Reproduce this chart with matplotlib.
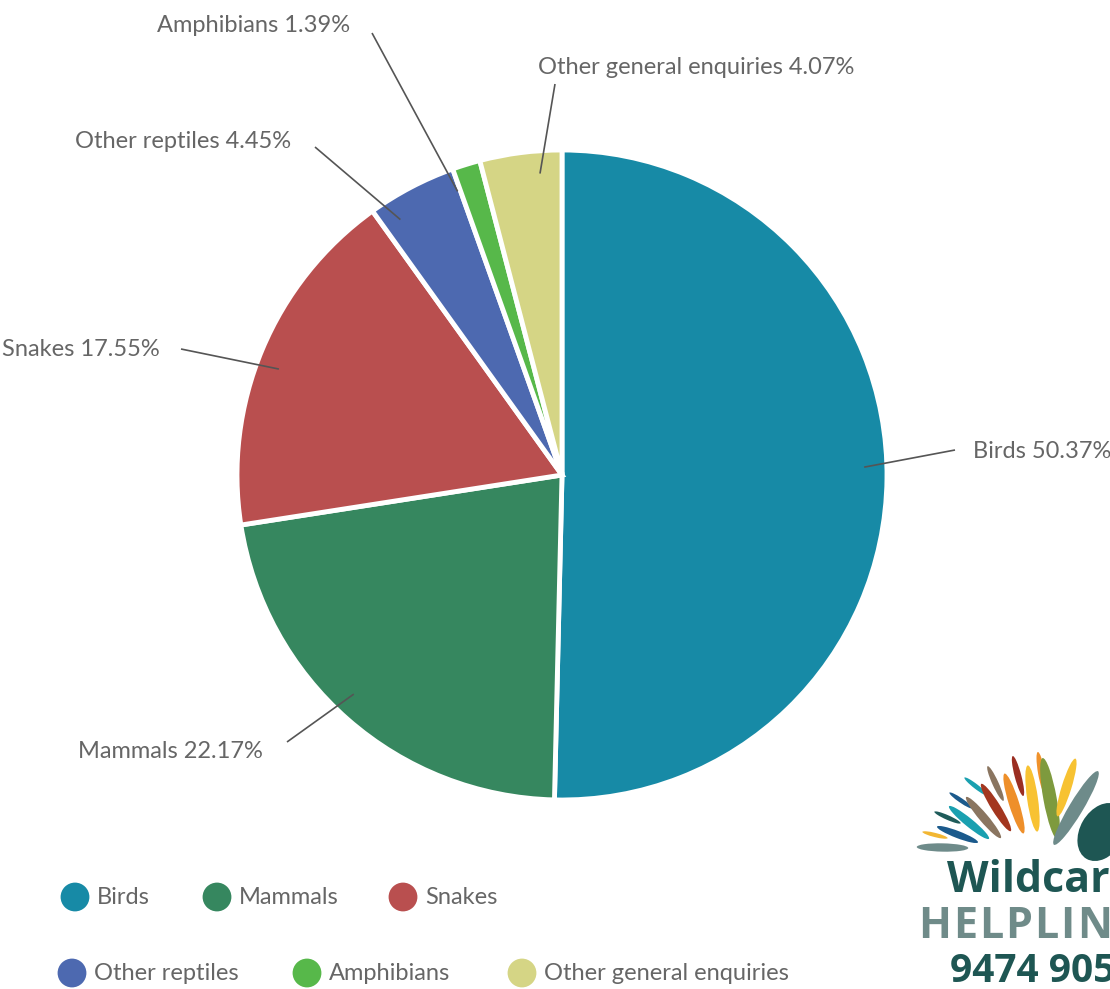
import numpy as np
import matplotlib
matplotlib.use("Agg")
import matplotlib.pyplot as plt
from matplotlib.patches import Ellipse

W, H = 1110, 989

categories = ["Birds", "Mammals", "Snakes", "Other reptiles", "Amphibians",
              "Other general enquiries"]
shares = [50.37, 22.17, 17.55, 4.45, 1.39, 4.07]
colors = ["#178AA6", "#36875F", "#B94F4F", "#4D69B0", "#57B84A", "#D5D585"]

# label layout, pixel coords with y measured from the top
label_pos = [(973, 452), (263, 752), (160, 349), (291, 141), (350, 25), (538, 68)]
leader_end = [(955, 450), (287, 742), (181, 349), (315, 147), (372, 33), (555, 84)]
label_ha = ["left", "right", "right", "right", "right", "left"]

legend_x = [75, 217, 403, 72, 307, 522]
legend_y = [897, 897, 897, 973, 973, 973]

FONT = ["Lato", "DejaVu Sans"]
LOGO_FONT = ["Open Sans", "DejaVu Sans"]
TXT = "#666666"
FS = 17

fig = plt.figure(figsize=(W / 100, H / 100), dpi=100)
ax = fig.add_axes([0, 0, 1, 1])

def Y(py):
    return H - py

# ── pie ───────────────────────────────────────────────────────────────────
cx, cy, R = 562, Y(475), 325
wedges, _ = ax.pie(shares, colors=colors, startangle=90, counterclock=False,
                   center=(cx, cy), radius=R,
                   wedgeprops=dict(edgecolor="white", linewidth=3.5))

for w, cat, val, (tx, ty), (ex, ey), ha in zip(wedges, categories, shares,
                                                 label_pos, leader_end, label_ha):
    mid = np.deg2rad((w.theta1 + w.theta2) / 2)
    # lean the connector a little towards its label
    lab = np.arctan2(Y(ey) - cy, ex - cx)
    ang = mid + 0.5 * np.angle(np.exp(1j * (lab - mid)))
    ix, iy = cx + 0.93 * R * np.cos(ang), cy + 0.93 * R * np.sin(ang)
    ax.plot([ix, ex], [iy, Y(ey)], color="#555555", lw=1.2, solid_capstyle="butt")
    ax.text(tx, Y(ty), f"{cat} {val:.2f}%", ha=ha, va="center", fontsize=FS,
            color=TXT, family=FONT)

# ── legend ────────────────────────────────────────────────────────────────
ax.scatter(legend_x, [Y(v) for v in legend_y], s=430, c=colors, edgecolors="none",
           zorder=3)
for x, y, cat in zip(legend_x, legend_y, categories):
    ax.text(x + 22, Y(y), cat, ha="left", va="center", fontsize=FS, color=TXT,
            family=FONT)

# ── logo (bottom right, clipped by the figure edge) ───────────────────────
strokes = [  # outer end, inner end, colour
    ((918, 847), (967, 848), "#6E8B8A"),
    ((923, 832), (947, 838), "#F2B632"),
    ((938, 827), (977, 842), "#1B5A8C"),
    ((935, 812), (960, 823), "#1F5C5A"),
    ((950, 807), (988, 838), "#1AA0B0"),
    ((950, 793), (972, 808), "#1B5A8C"),
    ((967, 798), (1000, 837), "#8A7560"),
    ((965, 778), (987, 795), "#1AA0B0"),
    ((982, 785), (1010, 830), "#A3361F"),
    ((988, 767), (1003, 800), "#8A7560"),
    ((1005, 775), (1023, 832), "#EE8F2A"),
    ((1013, 757), (1023, 795), "#9B2E22"),
    ((1028, 767), (1037, 830), "#F8C232"),
    ((1038, 753), (1045, 793), "#F0922B"),
    ((1043, 760), (1057, 837), "#7E9A3E"),
    ((1075, 760), (1058, 815), "#F7C232"),
    ((1097, 773), (1055, 843), "#6E8B8A"),
]
for (x1, y1), (x2, y2), c in strokes:
    dx, dy = x2 - x1, Y(y2) - Y(y1)
    L = np.hypot(dx, dy)
    ax.add_patch(Ellipse(((x1 + x2) / 2, (Y(y1) + Y(y2)) / 2), L * 1.05, L * 0.17,
                         angle=np.degrees(np.arctan2(dy, dx)), color=c, lw=0))
ax.add_patch(Ellipse((1102, Y(832)), 62, 44, angle=60, color="#1E5653", lw=0))

ax.text(947, Y(880), "Wildcare", ha="left", va="center", fontsize=31,
        fontweight="bold", color="#1E5653", family=LOGO_FONT)
fig.canvas.draw()
renderer = fig.canvas.get_renderer()
x = 918
for ch in "HELPLINE":
    t = ax.text(x, Y(926), ch, ha="left", va="center", fontsize=31,
                fontweight="bold", color="#6F8B89", family=LOGO_FONT)
    x += t.get_window_extent(renderer).width + 2
ax.text(950, Y(971), "9474 9055", ha="left", va="center", fontsize=28,
        fontweight="bold", color="#1E5653", family=LOGO_FONT)

ax.set_xlim(0, W)
ax.set_ylim(0, H)
ax.set_aspect("auto")
ax.axis("off")

fig.savefig("out.png", dpi=100, facecolor="white")
